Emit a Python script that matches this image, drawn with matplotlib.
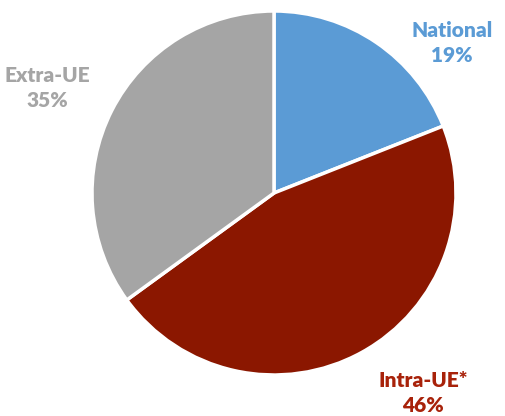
import matplotlib
matplotlib.use("Agg")
import matplotlib.pyplot as plt

labels = ["National", "Intra-UE*", "Extra-UE"]
values = [19, 46, 35]
pct_labels = ["19%", "46%", "35%"]
colors = ["#5B9BD5", "#8B1700", "#A5A5A5"]
text_colors = ["#5B9BD5", "#A8220A", "#A5A5A5"]

W, H = 505, 416
fig = plt.figure(figsize=(W/100, H/100), dpi=100)
cx, cy, r = 274, 193, 182
ax = fig.add_axes([(cx - r)/W, (H - cy - r)/H, 2*r/W, 2*r/H])
ax.pie(values, colors=colors, startangle=90, counterclock=False, radius=1,
       wedgeprops=dict(edgecolor="white", linewidth=2.5))
ax.set_xlim(-1, 1)
ax.set_ylim(-1, 1)
ax.set_aspect("equal")
ax.axis("off")

label_pos = [(452, 43), (423, 393), (47, 88)]
for lab, pct, col, (px, py) in zip(labels, pct_labels, text_colors, label_pos):
    ax.text((px - cx)/r, (cy - py)/r, f"{lab}\n{pct}", color=col, ha="center", va="center",
            fontsize=15, fontweight="heavy", family="Lato", linespacing=1.4, clip_on=False)

fig.savefig("out.png", dpi=100)
